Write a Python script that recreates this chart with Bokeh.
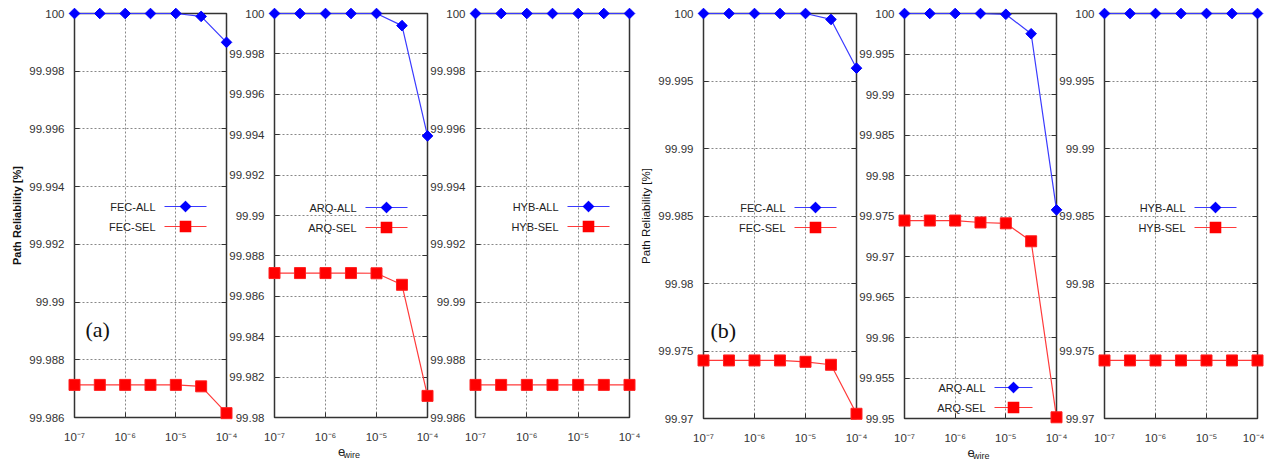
import numpy as np
from bokeh.plotting import figure
from bokeh.layouts import row
from bokeh.models import (FixedTicker, LinearAxis, LogAxis, Range1d, Label,
                          BoxAnnotation, PolyAnnotation)
from bokeh.core.properties import value
from bokeh.embed import file_html
from bokeh.resources import INLINE

# ---------------- data ----------------
eps_wire = [1e-7, 3.16e-7, 1e-6, 3.16e-6, 1e-5, 3.16e-5, 1e-4]
x_ticks = [1e-7, 1e-6, 1e-5, 1e-4]
x_tick_labels = ["10\u207b\u2077", "10\u207b\u2076", "10\u207b\u2075", "10\u207b\u2074"]
x_title = ("e", "wire")

# (a)
fec_all_a = [100, 100, 100, 100, 100, 99.9999, 99.999]
fec_sel_a = [99.98713, 99.98713, 99.98713, 99.98713, 99.98713, 99.98708, 99.98615]
arq_all_a = [100, 100, 100, 100, 100, 99.9994, 99.99394]
arq_sel_a = [99.98715, 99.98715, 99.98715, 99.98715, 99.98714, 99.98657, 99.98107]
hyb_all_a = [100, 100, 100, 100, 100, 100, 100]
hyb_sel_a = [99.98713, 99.98713, 99.98713, 99.98713, 99.98713, 99.98713, 99.98713]

# (b)
fec_all_b = [100, 100, 100, 100, 100, 99.99956, 99.99595]
fec_sel_b = [99.9743, 99.9743, 99.9743, 99.9743, 99.9742, 99.97398, 99.97035]
arq_all_b = [100, 100, 100, 100, 99.9999, 99.9975, 99.97576]
arq_sel_b = [99.97444, 99.97444, 99.97444, 99.9742, 99.9741, 99.97188, 99.95015]
hyb_all_b = [100, 100, 100, 100, 100, 100, 100]
hyb_sel_b = [99.9743, 99.9743, 99.9743, 99.9743, 99.9743, 99.9743, 99.9743]

series_names = [("FEC-ALL", "FEC-SEL"), ("ARQ-ALL", "ARQ-SEL"), ("HYB-ALL", "HYB-SEL"),
                ("FEC-ALL", "FEC-SEL"), ("ARQ-ALL", "ARQ-SEL"), ("HYB-ALL", "HYB-SEL")]

yt_a1 = [99.986, 99.988, 99.99, 99.992, 99.994, 99.996, 99.998, 100]
yl_a1 = ["99.986", "99.988", "99.99", "99.992", "99.994", "99.996", "99.998", "100"]
yt_a2 = [99.98, 99.982, 99.984, 99.986, 99.988, 99.99, 99.992, 99.994, 99.996, 99.998, 100]
yl_a2 = ["99.98", "99.982", "99.984", "99.986", "99.988", "99.99", "99.992", "99.994",
         "99.996", "99.998", "100"]
yt_b1 = [99.97, 99.975, 99.98, 99.985, 99.99, 99.995, 100]
yl_b1 = ["99.97", "99.975", "99.98", "99.985", "99.99", "99.995", "100"]
yt_b2 = [99.95, 99.955, 99.96, 99.965, 99.97, 99.975, 99.98, 99.985, 99.99, 99.995, 100]
yl_b2 = ["99.95", "99.955", "99.96", "99.965", "99.97", "99.975", "99.98", "99.985",
         "99.99", "99.995", "100"]

y_ranges = [(99.986, 100), (99.98, 100), (99.986, 100), (99.97, 100), (99.95, 100), (99.97, 100)]
all_series = [fec_all_a, arq_all_a, hyb_all_a, fec_all_b, arq_all_b, hyb_all_b]
sel_series = [fec_sel_a, arq_sel_a, hyb_sel_a, fec_sel_b, arq_sel_b, hyb_sel_b]
y_tick_sets = [(yt_a1, yl_a1), (yt_a2, yl_a2), (yt_a1, yl_a1), (yt_b1, yl_b1), (yt_b2, yl_b2), (yt_b1, yl_b1)]

# ---------------- layout (pixels, page coordinates) ----------------
PAGE_TOP = 8
TOTAL_H = 453
frame_left = [72, 272, 473, 699, 900, 1100]
frame_w = [152, 153, 154, 153, 152, 153]
border_l = [64, 50, 50, 64, 50, 50]
border_r = [14, 14, 14, 14, 14, 7]
border_t = [4, 4, 4, 5, 5, 5]
frame_h = [404, 404, 404, 405, 405, 405]
legend_row = [211, 210, 211, 211, 31, 211]    # first legend row, px above frame bottom
legend_gx = [90, 91, 92, 91, 90, 90]           # sample start, px right of frame left
legend_gw = [42, 42, 42, 42, 38, 42]

FONT = "Liberation Sans"
BLUE_LINE = "#3a3aff"
RED_LINE = "#ff3a3a"
BLUE = "#0000ff"
RED = "#ff0000"

figs = []
prev_end = 0
for i in range(6):
    y0, y1 = y_ranges[i]
    yt, yl = y_tick_sets[i]
    p = figure(x_axis_type="log", x_range=Range1d(eps_wire[0], eps_wire[-1]),
               y_range=Range1d(y0, y1),
               frame_width=frame_w[i], frame_height=frame_h[i],
               min_border_left=border_l[i], min_border_right=border_r[i],
               min_border_top=border_t[i],
               min_border_bottom=TOTAL_H - border_t[i] - frame_h[i],
               output_backend="svg", toolbar_location=None,
               background_fill_color=None, border_fill_color=None)
    p.outline_line_color = "#333333"
    p.outline_line_width = 1.5

    xa = p.xaxis[0]
    ya = p.yaxis[0]
    xa.ticker = FixedTicker(ticks=x_ticks)
    xa.major_label_overrides = dict(zip(x_ticks, x_tick_labels))
    ya.ticker = FixedTicker(ticks=yt)
    ya.major_label_overrides = dict(zip(yt, yl))
    for ax in (xa, ya):
        ax.axis_line_color = None
        ax.major_tick_in = 5
        ax.major_tick_out = 0
        ax.major_tick_line_color = "#333333"
        ax.minor_tick_line_color = None
        ax.major_label_text_font = FONT
        ax.major_label_text_font_size = "11.5px"
        ax.major_label_text_color = "#333333"
    xa.major_label_standoff = 13
    ya.major_label_standoff = 10

    if i in (0, 3):
        ya.axis_label = "Path Reliability [%]"
        ya.axis_label_text_font = FONT
        ya.axis_label_text_font_size = "11px" if i == 0 else "11.5px"
        ya.axis_label_text_font_style = "bold" if i == 0 else "normal"
        ya.axis_label_text_color = "#111111"
        ya.axis_label_standoff = 3

    top_ax = LogAxis(ticker=FixedTicker(ticks=x_ticks), major_label_text_font_size="1px",
                     major_label_text_alpha=0,
                     major_label_standoff=0, major_tick_in=5, major_tick_out=0,
                     major_tick_line_color="#333333", minor_tick_line_color=None,
                     axis_line_color=None)
    right_ax = LinearAxis(ticker=FixedTicker(ticks=yt), major_label_text_font_size="1px",
                          major_label_text_alpha=0,
                          major_label_standoff=0, major_tick_in=5, major_tick_out=0,
                          major_tick_line_color="#333333", minor_tick_line_color=None,
                          axis_line_color=None)
    p.add_layout(top_ax, "above")
    p.add_layout(right_ax, "right")

    # grid
    for g in (p.xgrid[0], p.ygrid[0]):
        g.grid_line_color = "#888888"
        g.grid_line_dash = "2 2"
        g.grid_line_width = 1

    # data
    p.line(eps_wire, all_series[i], line_color=BLUE_LINE, line_width=1.2, level="overlay")
    p.scatter(eps_wire, all_series[i], marker="square", angle=np.pi / 4, size=7.5,
              fill_color=BLUE, line_color=BLUE, level="overlay")
    p.line(eps_wire, sel_series[i], line_color=RED_LINE, line_width=1.2, level="overlay")
    p.scatter(eps_wire, sel_series[i], marker="square", size=11,
              fill_color=RED, line_color="#ff2020", level="overlay")

    # legend (text on the left, sample on the right), in screen units of the frame
    gx, gw = legend_gx[i], legend_gw[i]
    cx = gx + gw / 2
    for k, nm in enumerate(series_names[i]):
        ry = legend_row[i] - 20 * k
        p.add_layout(Label(x=gx - 9, y=ry, x_units="screen", y_units="screen", text=nm,
                           text_align="right", text_baseline="middle",
                           text_font=FONT, text_font_size="11px", text_color="#222222"))
        col_line = BLUE_LINE if k == 0 else RED_LINE
        p.add_layout(BoxAnnotation(left=gx, right=gx + gw, bottom=ry - 0.6, top=ry + 0.6,
                                   left_units="screen", right_units="screen",
                                   bottom_units="screen", top_units="screen",
                                   fill_color=col_line, fill_alpha=1, line_color=None))
        h = 5.8
        if k == 0:
            p.add_layout(PolyAnnotation(xs=[cx, cx + h, cx, cx - h], ys=[ry + h, ry, ry - h, ry],
                                        xs_units="screen", ys_units="screen",
                                        fill_color=BLUE, fill_alpha=1, line_color=BLUE,
                                        line_width=0.5))
        else:
            p.add_layout(BoxAnnotation(left=cx - h, right=cx + h, bottom=ry - h, top=ry + h,
                                       left_units="screen", right_units="screen",
                                       bottom_units="screen", top_units="screen",
                                       fill_color=RED, fill_alpha=1, line_color=None))

    if i in (0, 3):
        p.add_layout(Label(x=11 if i == 0 else 7, y=88, x_units="screen", y_units="screen",
                           text="(a)" if i == 0 else "(b)", text_align="left",
                           text_baseline="middle", text_font="Liberation Serif",
                           text_font_size="22px", text_color="#111111"))
    if i in (1, 4):
        # x-axis title e_wire under the middle panel, anchored at the bottom-centre of the range
        xc = float(np.sqrt(eps_wire[0] * eps_wire[-1]))
        p.text(x=[xc], y=[y0], text=[x_title[0]], x_offset=-13, y_offset=34,
               text_align="left", text_baseline="alphabetic",
               text_font=value(FONT), text_font_size=value("13px"),
               text_color="#222222", level="overlay")
        p.text(x=[xc], y=[y0], text=[x_title[1]], x_offset=-7.5, y_offset=37.5,
               text_align="left", text_baseline="alphabetic",
               text_font=value(FONT), text_font_size=value("9px"),
               text_color="#222222", level="overlay")

    start = frame_left[i] - border_l[i]
    p.margin = (PAGE_TOP, 0, 0, start - prev_end)
    prev_end = start + border_l[i] + frame_w[i] + border_r[i]
    figs.append(p)

layout = row(*figs)
open("out.html", "w").write(file_html(layout, INLINE))
